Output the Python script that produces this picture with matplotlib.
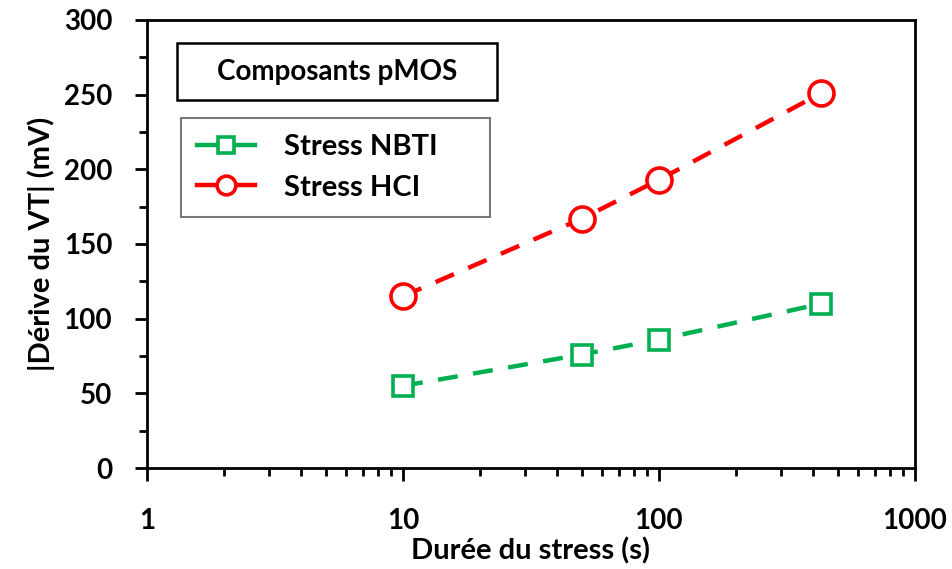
import matplotlib
matplotlib.use("Agg")
import matplotlib.pyplot as plt
from matplotlib.patches import Rectangle
from matplotlib.ticker import FixedLocator, LogLocator, NullFormatter

plt.rcParams['font.family'] = ['Lato', 'DejaVu Sans']
plt.rcParams['font.weight'] = 'bold'

# data
duree = [10, 50, 100, 430]
nbti = [55, 76, 86, 110]
hci = [115, 167, 193, 251]
series_labels = ["Stress NBTI", "Stress HCI"]
x_ticks = [1, 10, 100, 1000]
x_ticklabels = ["1", "10", "100", "1000"]
y_ticks = [0, 50, 100, 150, 200, 250, 300]

GREEN = "#00B050"
RED = "#FF0000"

fig = plt.figure(figsize=(9.52, 5.69), dpi=100)
ax = fig.add_axes([0.1544, 0.1775, 0.8067, 0.7874])

ax.plot(duree, nbti, color=GREEN, lw=3.2, ls=(0, (4.5, 3.5)), marker="s", ms=15,
        mfc="white", mec=GREEN, mew=2.6, label=series_labels[0])
ax.plot(duree, hci, color=RED, lw=3.2, ls=(0, (4.5, 3.5)), marker="o", ms=18,
        mfc="white", mec=RED, mew=2.6, label=series_labels[1])

ax.set_xscale("log")
ax.set_xlim(1, 1000)
ax.set_ylim(0, 300)
ax.set_xticks(x_ticks)
ax.set_xticklabels(x_ticklabels)
ax.xaxis.set_minor_locator(LogLocator(base=10, subs=range(2, 10)))
ax.xaxis.set_minor_formatter(NullFormatter())
ax.set_yticks(y_ticks)
ax.yaxis.set_minor_locator(FixedLocator([25, 75, 125, 175, 225, 275]))

for s in ax.spines.values():
    s.set_linewidth(2)
ax.tick_params(which="major", direction="out", length=9, width=2, labelsize=20)
ax.tick_params(which="minor", direction="out", length=6, width=2)
ax.tick_params(axis="y", pad=16)
ax.tick_params(axis="x", pad=20)

ax.set_xlabel("Durée du stress (s)", fontsize=21, fontweight="bold", labelpad=2)
ax.set_ylabel("|Dérive du VT| (mV)", fontsize=21, fontweight="bold", labelpad=6)

# "Composants pMOS" box
fig.add_artist(Rectangle((0.186, 0.8243), 0.336, 0.1002, transform=fig.transFigure,
                         fc="white", ec="black", lw=1.8, zorder=5))
fig.text(0.354, 0.874, "Composants pMOS", ha="center", va="center",
         fontsize=20, fontweight="bold", zorder=6)

leg = ax.legend(loc="upper left", bbox_to_anchor=(0.190, 0.7926, 0.325, 0.0),
                bbox_transform=fig.transFigure, mode="expand",
                frameon=True, fancybox=False, handlelength=2.0, borderpad=0.55,
                labelspacing=0.5, handletextpad=1.0, markerscale=0.75,
                borderaxespad=0, prop={"weight": "bold", "size": 21})
leg.get_frame().set_edgecolor("#555555")
leg.get_frame().set_linewidth(1.5)
for h in leg.get_lines():
    h.set_linestyle("-")

fig.savefig("out.png", dpi=100)
